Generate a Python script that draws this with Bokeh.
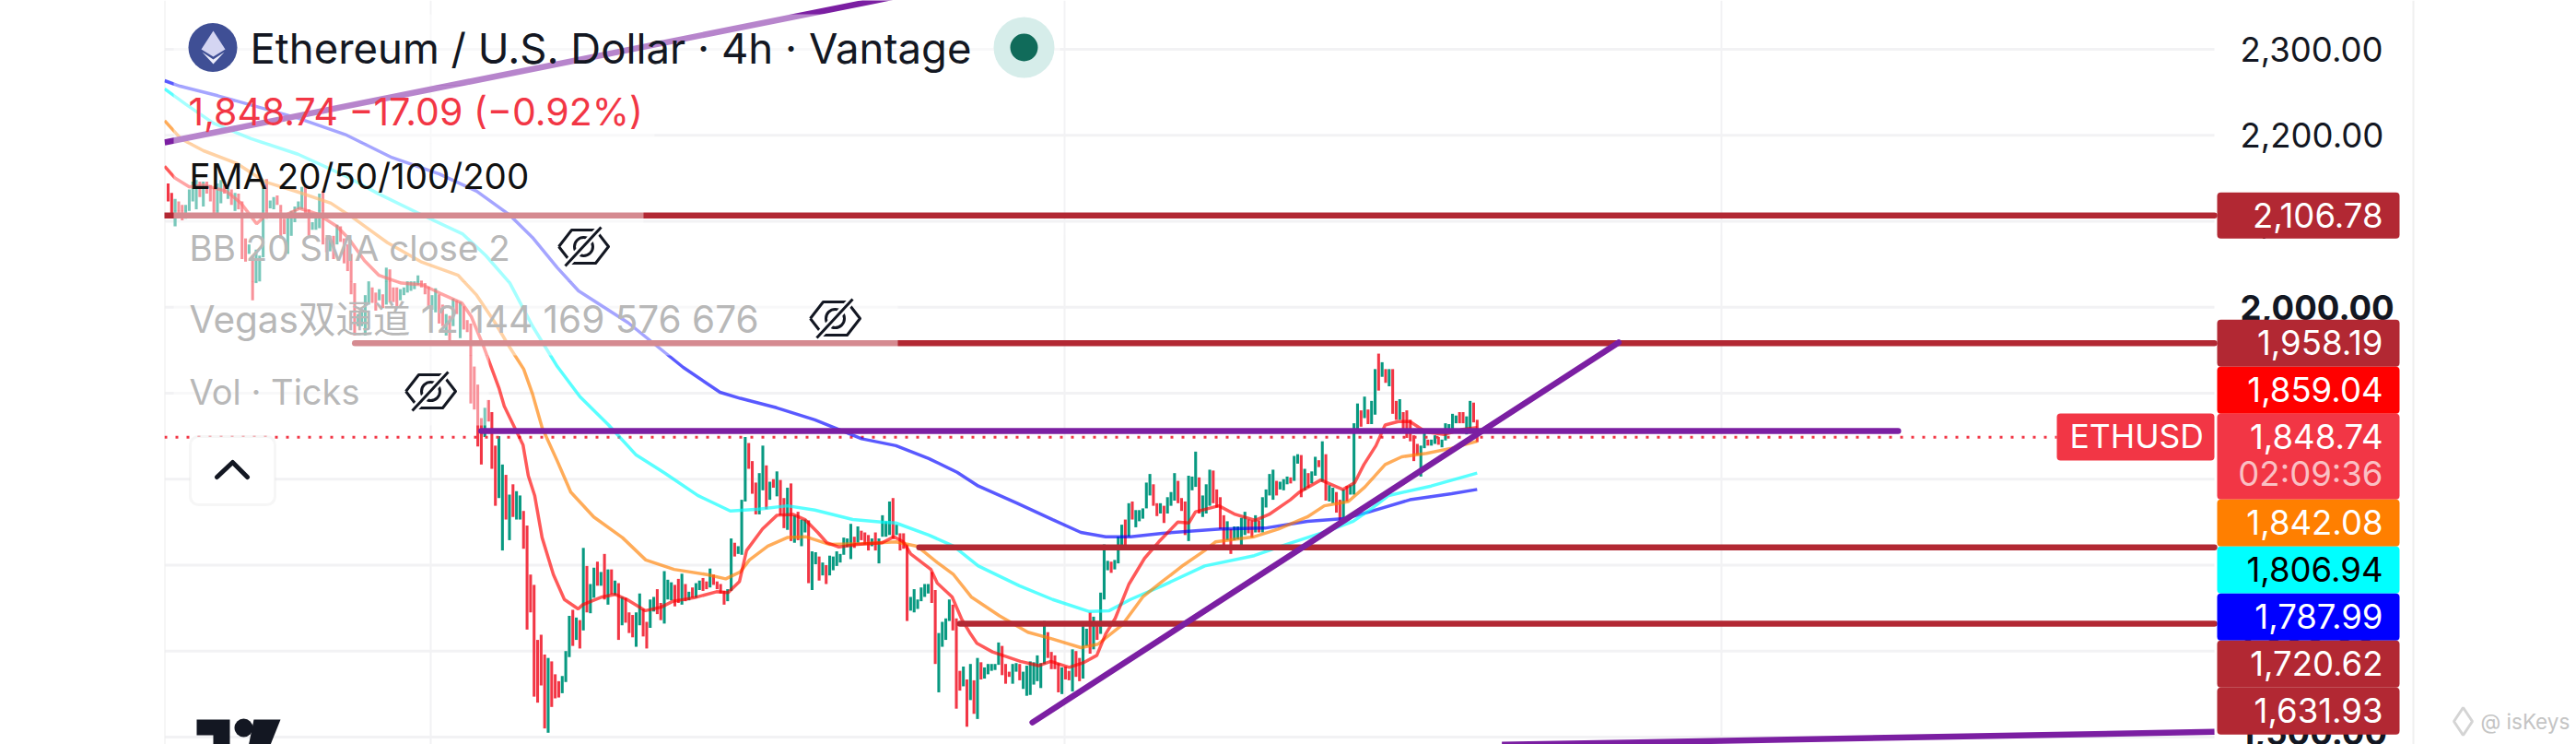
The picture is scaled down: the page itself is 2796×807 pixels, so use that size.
import numpy as np
from bokeh.plotting import figure
from bokeh.embed import file_html
from bokeh.resources import INLINE
from bokeh.models import BoxAnnotation, Label, FixedTicker, NumeralTickFormatter, Range1d, LinearAxis

# ---------- candles (high / low / direction) ----------
HIGH_A = [2144,2133,2126,2123,2119,2119,2137,2146,2148,2146,2146,2146,2142,2139,2144,2148,2142,2139,2137,2133,2132,2123,2080,2073,2060,2067,2060,2139,2149,2124,2128,2130,2119,2103,2107,2112,2117,2123,2140,2140,2114,2099,2107,2132,2135,2081,2083,2083,2096,2094,2080,2073,2062,2028,1992,1997,2014,2030,2023,2017,2021,2015,2046,2044,2023,2023,2021,2023,2030,2030,2030,2037,2031,2028,2024,2014,2022,2015,2003,1992,1990,2010,2008,2006,2001,1985,1981,1931]
LOW_A = [2123,2107,2094,2108,2101,2103,2112,2123,2114,2128,2117,2132,2123,2107,2105,2121,2132,2126,2119,2112,2114,2056,2053,2062,2008,2028,2030,2058,2103,2115,2114,2119,2080,2085,2062,2083,2099,2114,2114,2107,2083,2090,2090,2092,2073,2064,2065,2056,2073,2076,2051,2042,2015,1967,1978,1978,1967,2003,2005,1996,2008,1999,2003,2006,2006,2001,2008,2014,2017,2019,2021,2026,2023,2015,1999,1997,1994,1981,1978,1967,1956,1978,1992,1964,1974,1971,1888,1881]
DIR_A = "RRGRRGGGGR" "GRRRGGRGRG" "RRRGRGGGRG" "GRRRGGGGGR" "RGGGRRGRGR" "RRRRGGGGRR" "GRGRRRGGGG" "GGRRRGGRRG" "RGRGRRRR"
HIGH_B = [1910,1871,1883,1892,1878,1839,1850,1817,1805,1782,1794,1786,1781,1763,1746,1689,1677,1613,1619,1596,1592,1588,1573,1565,1571,1600,1641,1648,1639,1636,1720,1699,1678,1697,1704,1692,1713,1695,1695,1682,1679,1663,1662,1645,1642,1645,1667,1649,1634,1660,1663,1672,1656,1693,1683,1680,1677,1684,1690,1678,1669,1674,1679,1682,1685,1681,1696,1689,1681,1678,1670,1672,1731,1726,1722,1776,1849,1842,1821,1796,1807,1839,1816,1797,1800,1809,1799,1778,1790,1795,1758,1762,1753,1753,1752,1716,1715,1710,1703,1700,1711,1710,1716,1713,1732,1731]
LOW_B = [1838,1817,1849,1867,1812,1769,1778,1717,1753,1729,1756,1753,1753,1719,1625,1645,1547,1540,1560,1510,1505,1535,1545,1546,1551,1564,1593,1606,1613,1603,1624,1645,1644,1662,1676,1676,1660,1654,1666,1665,1613,1630,1633,1621,1616,1605,1630,1617,1603,1627,1646,1643,1636,1632,1660,1659,1652,1656,1654,1658,1659,1662,1662,1671,1670,1672,1674,1677,1672,1667,1654,1658,1670,1710,1713,1712,1774,1812,1783,1759,1759,1787,1765,1776,1790,1780,1758,1743,1741,1728,1726,1729,1722,1738,1679,1671,1701,1682,1688,1678,1688,1694,1699,1703,1712,1721]
DIR_B = "RRGRRRGGRG" "RGGRRRRRRR" "GRRRGGGRGR" "GRGGRGRGRG" "RGRRRGGRRG" "GRRGGGRRGR" "GRGGRRGRRR" "RGGRGGGRRR" "GGRGRGRRGR" "GRGGRGGRGR" "GGGGGG"
HIGH_C = [1748,1733,1745,1740,1738,1735,1731,1738,1731,1758,1751,1774,1778,1747,1737,1737,1724,1663,1672,1660,1674,1678,1678,1692,1671,1621,1634,1638,1660,1654,1638,1577,1582,1567,1585,1566,1592,1587,1581,1585,1585,1585,1610,1606,1585,1576,1585,1586,1585,1576,1583,1588,1587,1595,1586,1635,1622,1599,1595,1586,1581,1582,1577,1602,1600,1592,1629,1626,1645,1640,1629,1668,1724,1705,1704,1706,1733,1747,1753,1772,1774,1764,1764,1766,1796,1806,1794,1772,1772,1769,1779,1785,1807,1798,1778,1774,1804,1803,1832,1802,1781,1794,1811,1810,1788,1779,1758]
LOW_C = [1707,1720,1726,1729,1724,1717,1722,1717,1702,1733,1733,1735,1731,1735,1717,1719,1635,1647,1645,1649,1658,1663,1667,1656,1585,1552,1605,1613,1635,1624,1533,1554,1559,1512,1543,1527,1521,1567,1568,1573,1577,1578,1584,1572,1562,1570,1562,1576,1566,1556,1548,1549,1561,1565,1557,1585,1592,1579,1579,1552,1550,1567,1566,1553,1570,1565,1568,1606,1597,1602,1613,1620,1660,1694,1691,1695,1702,1718,1722,1733,1753,1744,1751,1754,1766,1781,1769,1757,1760,1749,1760,1769,1775,1772,1763,1735,1728,1787,1791,1760,1756,1760,1769,1772,1767,1742,1722]
DIR_C = "GRGRRRGRGG" "GGRGRRRGGG" "GGGRRGGGGR" "RRGRGRGRGG" "GGGRRRGGRG" "GGGGGGRRRR" "GRRGRRGGRG" "RGGGRGGGRG" "RGGGGGRRGR" "GGGRRRGGGR" "GGGRRRR"
HIGH_D = [1751,1742,1745,1745,1755,1762,1753,1752,1758,1752,1779,1788,1806,1811,1798,1797,1800,1803,1802,1827,1829,1828,1812,1807,1809,1826,1822,1844,1829,1793,1790,1785,1776,1788,1792,1793,1865,1888,1880,1896,1881,1891,1928,1946,1936,1928,1928,1928,1891,1893,1878,1880,1869,1851,1841,1839,1856,1846,1846,1851,1849,1846,1865,1864,1876,1874,1878,1878,1873,1891,1889,1869]
LOW_D = [1729,1713,1729,1730,1722,1735,1737,1732,1738,1738,1738,1767,1781,1776,1781,1788,1787,1794,1795,1798,1818,1779,1787,1790,1795,1804,1814,1797,1775,1774,1772,1761,1752,1753,1774,1782,1782,1854,1861,1871,1864,1864,1875,1903,1919,1912,1908,1876,1869,1869,1858,1848,1844,1821,1828,1803,1836,1839,1839,1841,1840,1837,1845,1856,1858,1865,1865,1865,1852,1857,1866,1843]
DIR_D = "GRGGGGRRGR" "GGGGRGGGRG" "GRGRGGRGRG" "GRRGRGGGRG" "RGGRGRGRRG" "RRRRRGGRGG" "RGGGGGRRGG" "RR"

# ---------- moving averages, sampled along the time axis ----------
EMA20_T = [-1,2,6,10,16.4,20.6,25,27.6,33.6,37.2,42.4,47.7,51,55.5,59.6,65.9,71.9,77,83,85.7,89.3,93.5,95,100.3,101.8,103.6,105.7,108.9,112,115.9,117.2,122.7,126.3,129.7,134.9,139.3,142.7,148.7,155,158.3,161.5,163.5,168,172.1,176.6,180,183.6,186.2,189.6,194.8,201.8,205.2,207.8,209.9,215.6,217.4,221.6,224.2,226.8,228.6,233,240.9,246,249.5,254.7,259,262.5,265,267.7,271.6,276,280,285.4,288.5,290.4,297,301.6,307.3,311.2,317.2,319.8,325.8,332,335.4,338,341.4,344,347.7,351,355.5,360.7,365.9,370]
EMA20_V = [2164,2150,2140,2142,2135,2121,2097,2107,2108,2115,2108,2094,2080,2054,2037,2028,2026,2016,2005,1989,1953,1906,1885,1840,1804,1781,1732,1689,1660,1649,1654,1663,1666,1660,1647,1651,1658,1662,1669,1668,1681,1717,1742,1758,1759,1753,1738,1726,1721,1724,1726,1733,1727,1713,1695,1679,1663,1638,1620,1609,1599,1588,1583,1588,1581,1587,1595,1620,1638,1678,1708,1727,1750,1749,1762,1769,1759,1752,1759,1776,1785,1799,1788,1796,1817,1839,1863,1867,1867,1855,1852,1858,1860]
EMA50_T = [-1,3.6,10,19.5,27.3,36.7,46,52.6,62,71.4,82,87.2,92.4,96.6,100.5,103,105.7,110,113.8,120.3,128.4,135,143,152.3,157.6,161.7,164.3,169.5,175,180.2,187,196,205.7,211.7,217.4,222,227,235,243,250,258,262.8,269.8,275.5,281,287,293,296,307,313.8,322,326.8,333.6,338.3,344,348.7,355.7,362.8,370]
EMA50_V = [2217,2196,2182,2167,2146,2134,2121,2103,2075,2053,2037,2014,1982,1953,1928,1899,1860,1821,1785,1756,1732,1706,1695,1689,1684,1692,1706,1722,1732,1733,1724,1725,1727,1722,1703,1689,1663,1641,1622,1614,1604,1608,1631,1663,1681,1700,1717,1727,1733,1742,1756,1769,1774,1791,1817,1826,1830,1836,1844]
EMA100_T = [-1,5,12.8,23.4,36.7,50,59.4,71.4,83.3,89.8,96.6,103,110,116.4,124.5,132.3,140.4,149.7,158.9,167,175,182.8,193.5,201.6,205.7,215,222,229,240.6,250,260.4,266,272,281,293,307,316,328,335,340.6,345,357,370]
EMA100_V = [2254,2236,2214,2196,2178,2153,2132,2108,2085,2060,2028,1978,1931,1896,1863,1828,1807,1781,1763,1765,1769,1764,1753,1750,1749,1735,1722,1699,1676,1660,1646,1647,1660,1676,1699,1711,1724,1740,1751,1767,1781,1792,1807]
EMA200_T = [-1,3.4,14,36.7,50,63.3,76.6,87.2,96.6,103,110,116,130,145.6,156,161.7,172,182.8,188.3,196,205.7,215,223,229,240,250,258,265,272,281,297.6,310,322,332.5,339.6,351,362.8,370]
EMA200_V = [2263.5,2257,2246,2220,2201,2174,2155,2135,2107,2081,2046,2019,1982,1930,1901,1894,1883,1869,1860,1847,1839,1824,1808,1792,1772,1753,1738,1733,1733,1737,1742,1743,1751,1754,1762,1776,1783,1788]

# ---------- drawn levels and trend lines ----------
LEVELS = [2106.78, 1958.19, 1720.62, 1631.93]
LEVEL_T = [-1, 52.8, 212.3, 223.8]
PRICE_LAST = 1848.74
HLINE_V = 1856
HLINE_T = [88.5, 489]
TREND_T = [244.3, 410]
TREND_V = [1517, 1959]
TOP_T = [-1, 200, 230]
TOP_V = [2191.6, 2356.8, 2382]
BOTTOM_T = [377, 578.4]
BOTTOM_V = [1491, 1506]

# ---------- axis and tags ----------
AXIS_TICKS = [2300, 2200, 2100, 1900, 1800, 1700, 1600]
BOLD_TICKS = [2000, 1500]
GRID_TICKS = [2300, 2200, 2100, 2000, 1900, 1800, 1700, 1600, 1500]
TIME_GRID = [74.2, 253.4, 439.1]
TAG_TEXT = ["1,958.19", "1,859.04", "1,848.74", "1,842.08", "1,806.94", "1,787.99", "1,720.62", "1,631.93"]
TAG_FILL = ["#b22833", "#ff0000", "#f23645", "#ff7f00", "#00ffff", "#0000ff", "#b22833", "#b22833"]
TAG_INK = ["white", "white", "white", "white", "black", "white", "white", "white"]

UP = "#089981"
DOWN = "#f23645"
PURPLE = "#7b1fa2"
LEVEL = "#b22833"
PX = 3.84
def X(px):
    return (px - 182) / PX
def Y(py):
    return 2356.8 - 1.0724 * py

high = HIGH_A + HIGH_B + HIGH_C + HIGH_D
low = LOW_A + LOW_B + LOW_C + LOW_D
dirs = DIR_A + DIR_B + DIR_C + DIR_D
n = len(high)
t = np.arange(n) * 370.0 / (n - 1)
colors = [UP if d == "G" else DOWN for d in dirs]

p = figure(width=2796, height=807, output_backend="svg", toolbar_location=None,
           x_range=Range1d(X(178), X(2796)), y_range=Range1d(Y(807), Y(0)),
           x_axis_location=None, y_axis_location=None,
           min_border_left=178, min_border_right=0, min_border_top=0, min_border_bottom=0,
           outline_line_color=None, background_fill_color="white", border_fill_color="white")

# the price scale lives inside the frame, right of the pane, under the tags
def price_axis(ticks, style):
    ax = LinearAxis(ticker=FixedTicker(ticks=ticks), formatter=NumeralTickFormatter(format="0,0.00"),
                    fixed_location=X(2403), axis_line_color=None, major_tick_line_color=None,
                    minor_tick_line_color=None, major_label_standoff=22, major_label_text_font="Inter",
                    major_label_text_font_size="36.5px", major_label_text_color="#131722",
                    major_label_text_font_style=style, level="underlay")
    p.add_layout(ax, "right")
price_axis(AXIS_TICKS, "normal")
price_axis(BOLD_TICKS, "bold")

p.xaxis.visible = False
p.xgrid.ticker = FixedTicker(ticks=TIME_GRID)
p.xgrid.grid_line_color = "#f2f2f4"
p.xgrid.grid_line_width = 2
p.ygrid.visible = False
p.segment(x0=X(178), x1=X(2403), y0=GRID_TICKS, y1=GRID_TICKS, line_color="#f2f2f4", line_width=3, level="underlay")

# left edge of the pane
p.line([X(178), X(178)], [Y(0), Y(807)], line_color="#eeeeee", line_width=2)

# candles
p.vbar(x=t, top=high, bottom=low, width=0.8, fill_color=colors, line_color=None)

# price line
p.line([X(178), X(2232)], [PRICE_LAST, PRICE_LAST], line_color=DOWN, line_width=3, line_dash="3 9")

# moving averages
for tt, vv, c in [(EMA200_T, EMA200_V, "#0000ff"), (EMA100_T, EMA100_V, "#00ffff"),
                  (EMA50_T, EMA50_V, "#ff7f00"), (EMA20_T, EMA20_V, "#ff0000")]:
    p.line(tt, vv, line_color=c, line_alpha=0.65, line_width=3.5)

# drawings
for v, t0 in zip(LEVELS, LEVEL_T):
    p.line([t0, X(2403)], [v, v], line_color=LEVEL, line_width=6.5, line_cap="round")
p.line(HLINE_T, [HLINE_V, HLINE_V], line_color=PURPLE, line_width=6.5, line_cap="round")
p.line(TREND_T, TREND_V, line_color=PURPLE, line_width=6.5, line_cap="round")
p.line(TOP_T, TOP_V, line_color=PURPLE, line_width=6.5)
p.line(BOTTOM_T, BOTTOM_V, line_color=PURPLE, line_width=6.5)

# legend rows wash out what they cover
for top, bot, right in [(15, 92, 1150), (92, 155, 710), (155, 228, 590),
                        (228, 305, 698), (305, 385, 974), (385, 461, 530)]:
    p.add_layout(BoxAnnotation(left=X(188), right=X(right), top=Y(top), bottom=Y(bot),
                               fill_color="white", fill_alpha=0.46, line_color=None))

def label(px, py, text, size, color="#131722", font="Inter", style="normal", alpha=1.0, align="left"):
    p.add_layout(Label(x=X(px), y=Y(py), text=text, text_font=font, text_font_size=f"{size}px",
                       text_color=color, text_font_style=style, text_alpha=alpha,
                       text_baseline="middle", text_align=align))

label(271, 52, "Ethereum / U.S. Dollar · 4h · Vantage", 45.5)
label(204, 120, "1,848.74 −17.09 (−0.92%)", 41, DOWN)
label(205, 190, "EMA 20/50/100/200", 38.5, "#111111")
label(205, 268, "BB 20 SMA close 2", 38.5, "#b8b8b8")
label(205, 346, "Vegas双通道 12 144 169 576 676", 40.5, "#b8b8b8", font="Inter, 'Noto Sans CJK SC'")
label(205, 424, "Vol · Ticks", 38, "#b8b8b8")

def tag(top, bot, left, right, fill, radius=4):
    p.add_layout(BoxAnnotation(left=X(left), right=X(right), top=Y(top), bottom=Y(bot),
                               fill_color=fill, fill_alpha=1, line_color=None, border_radius=radius))

# standalone tag
yy = (2356.8 - LEVELS[0]) / 1.0724
tag(yy - 25, yy + 25, 2406, 2604, LEVEL)
label(2586, yy, "2,106.78", 36.5, "white", align="right")
# stacked tags: start on the highest level, each next tag directly below
h = 51
cur = (2356.8 - LEVELS[1]) / 1.0724 - h / 2
for txt, fill, ink in zip(TAG_TEXT, TAG_FILL, TAG_INK):
    tall = txt == "1,848.74"
    hh = 93 if tall else h
    tag(cur, cur + hh, 2406, 2604, fill)
    label(2586, cur + h / 2 - 1, txt, 36.5, ink, align="right")
    if tall:
        label(2586, cur + 65, "02:09:36", 36.5, "white", alpha=0.7, align="right")
    cur += hh

# symbol tag on the price line
tag(448, 499, 2232, 2403, DOWN)
label(2246, 473, "ETHUSD", 35.5, "white")

# collapse button
p.add_layout(BoxAnnotation(left=X(206), right=X(298), top=Y(473), bottom=Y(547), fill_color="white",
                           fill_alpha=1, line_color="#e0e0e0", line_width=3, border_radius=9))
p.line([X(235), X(252), X(268)], [Y(517), Y(501), Y(517)], line_color="#131722", line_width=5,
       line_cap="round", line_join="round", level="overlay")

# symbol logo
p.scatter([X(230.5)], [Y(51)], marker="circle", size=53, fill_color="#3f4f95", line_color=None, level="overlay")
p.patch([X(231), X(244), X(231), X(218)], [Y(33), Y(53), Y(61), Y(53)], fill_color="#d4d5f2", line_color=None, level="overlay")
p.patch([X(231), X(243), X(231), X(219)], [Y(64), Y(56), Y(69), Y(56)], fill_color="#ecedfb", line_color=None, level="overlay")

# market status dot
p.scatter([X(1111)], [Y(51)], marker="circle", size=66, fill_color="#d6edea", line_color=None, level="overlay")
p.scatter([X(1111)], [Y(51)], marker="circle", size=30, fill_color="#106b5a", line_color=None, level="overlay")

# hidden-indicator eyes
for cx, cy in [(633, 267), (906, 345), (467, 424)]:
    p.line([X(cx - 27), X(cx - 13), X(cx + 13), X(cx + 27), X(cx + 13), X(cx - 13), X(cx - 27)],
           [Y(cy), Y(cy - 18), Y(cy - 18), Y(cy), Y(cy + 18), Y(cy + 18), Y(cy)],
           line_color="#131722", line_width=3, line_join="round", level="overlay")
    p.scatter([X(cx)], [Y(cy)], marker="circle", size=20, fill_color=None, line_color="#131722", line_width=3, level="overlay")
    p.line([X(cx - 20), X(cx + 19)], [Y(cy + 21), Y(cy - 21)], line_color="white", line_width=8, level="overlay")
    p.line([X(cx - 20), X(cx + 19)], [Y(cy + 21), Y(cy - 21)], line_color="#131722", line_width=3, level="overlay")

# brand mark
p.patch([X(213), X(249), X(249), X(231), X(231), X(213)], [Y(780), Y(780), Y(815), Y(815), Y(797), Y(797)],
        fill_color="#131722", line_color=None, level="overlay")
p.scatter([X(264)], [Y(789)], marker="circle", size=20, fill_color="#131722", line_color=None, level="overlay")
p.patch([X(275), X(304), X(290), X(268)], [Y(780), Y(780), Y(815), Y(815)],
        fill_color="#131722", line_color=None, level="overlay")

# far-right rule and watermark
tag(0, 807, 2618, 2620, "#f0f0f0", radius=0)
p.scatter([X(2673)], [Y(782)], marker="diamond", size=30, fill_color=None, line_color="#d4d4d4", line_width=3, level="overlay")
label(2692, 782, "@ isKeys", 22.5, "#c4c4c4")

open("out.html", "w").write(file_html(p, INLINE))
